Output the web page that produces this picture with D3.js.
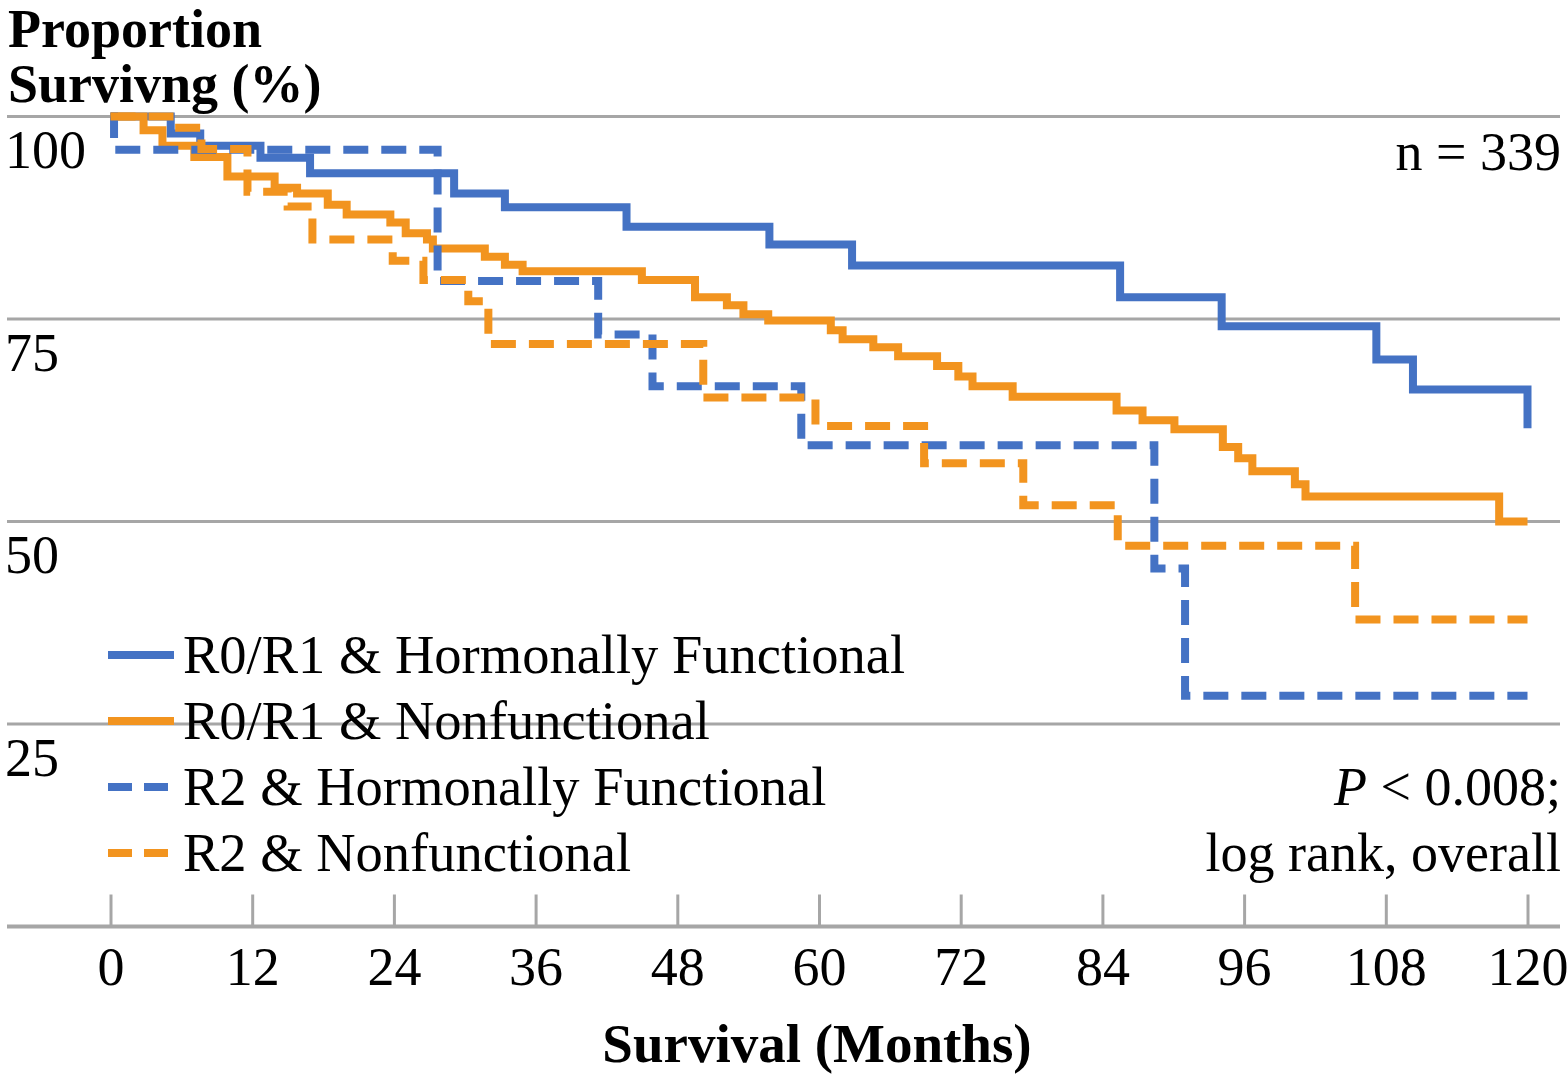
<!DOCTYPE html>
<html><head><meta charset="utf-8">
<script src="https://cdn.jsdelivr.net/npm/d3@7/dist/d3.min.js"></script>
<style>
body{margin:0;background:#fff}
svg{display:block}
text{font-family:"Liberation Serif","Times New Roman",serif;fill:#000}
</style>
</head><body>
<svg id="chart" width="1568" height="1077"></svg>
<script>
// ---- data ----
const xTickValues = [0,12,24,36,48,60,72,84,96,108,120];
const yTickValues = [25,50,75,100];
const seriesNames = ["R0/R1 & Hormonally Functional","R0/R1 & Nonfunctional","R2 & Hormonally Functional","R2 & Nonfunctional"];

const r01FuncMonths = [0,5.1,7.6,12.7,16.9,29.1,33.4,43.7,55.8,62.8,85.5,94.1,107.2,110.3,120];
const r01FuncSurv   = [100,97.9,96.4,94.9,93.0,90.5,88.8,86.4,84.2,81.6,77.7,74.1,70.0,66.3,61.5];

const r01NonMonths = [0,2.8,4.4,7.1,9.9,13.9,15.8,18.4,20.0,23.7,25.0,26.8,27.3,31.7,33.4,34.9,45.0,49.5,52.2,53.6,55.7,61.0,62.0,64.6,66.7,70.0,71.8,73.0,76.4,85.2,87.4,90.1,94.2,95.5,96.7,100.3,101.2,117.6,120];
const r01NonSurv   = [100,98.3,96.4,95.0,92.6,91.2,90.5,89.1,87.9,86.9,85.6,84.8,83.7,82.7,81.7,80.9,79.8,77.7,76.7,75.6,74.8,73.6,72.5,71.5,70.4,69.2,67.9,66.7,65.4,63.7,62.5,61.4,59.2,57.8,56.2,54.6,53.1,50.0,50.0];

const r2FuncMonths = [0,0.3,27.7,41.3,45.9,58.5,88.4,91.0,120];
const r2FuncSurv   = [100,95.9,79.7,73.1,66.7,59.4,44.2,28.5,28.5];

const r2NonMonths = [0,5.0,7.7,11.6,15.0,17.1,23.9,26.5,30.3,32.0,50.2,59.7,68.9,77.3,85.3,105.4,120];
const r2NonSurv   = [100,98.6,96.0,90.7,88.9,84.8,82.2,79.8,77.2,71.9,65.3,61.8,57.2,52.0,47.0,37.9,37.9];

// ---- setup ----
const BLUE = "#4472C4", ORANGE = "#F2941F", GRID = "#A6A6A6";
const svg = d3.select("#chart");
const x = d3.scaleLinear().domain([0,120]).range([110.5,1527.5]);
const y = d3.scaleLinear().domain([0,100]).range([926.5,116.5]);
const fullLeft = 7, fullRight = 1560;
const FS = "54px";

const series = [
  {name:seriesNames[0], t:r01FuncMonths, v:r01FuncSurv, color:BLUE, dash:null},
  {name:seriesNames[1], t:r01NonMonths, v:r01NonSurv, color:ORANGE, dash:null},
  {name:seriesNames[2], t:r2FuncMonths, v:r2FuncSurv, color:BLUE, dash:"25,13"},
  {name:seriesNames[3], t:r2NonMonths, v:r2NonSurv, color:ORANGE, dash:"25,13"}
];

// gridlines
svg.append("g").selectAll("line").data(yTickValues).join("line")
  .attr("x1",fullLeft).attr("x2",fullRight)
  .attr("y1",d=>y(d)).attr("y2",d=>y(d))
  .attr("stroke",GRID).attr("stroke-width",3);

// y labels
const yAxis = svg.append("g").attr("transform",`translate(${fullLeft-2},0)`)
  .call(d3.axisLeft(y).tickValues(yTickValues).tickSize(0));
yAxis.select(".domain").remove();
yAxis.selectAll("text").attr("text-anchor","start").attr("x",0).attr("dy",null)
  .attr("transform","translate(0,51)")
  .style("font-family","'Liberation Serif',serif").style("font-size",FS).attr("fill","#000");

// x axis
const xAxis = svg.append("g").attr("transform",`translate(0,${y(0)})`)
  .call(d3.axisBottom(x).tickValues(xTickValues).tickSize(-32).tickFormat(d3.format("d")));
xAxis.select(".domain").remove();
xAxis.selectAll(".tick line").attr("stroke",GRID).attr("stroke-width",3);
xAxis.selectAll("text").attr("y",58).attr("dy",null)
  .style("font-family","'Liberation Serif',serif").style("font-size",FS).attr("fill","#000");
svg.append("line").attr("x1",fullLeft).attr("x2",fullRight).attr("y1",y(0)).attr("y2",y(0))
  .attr("stroke",GRID).attr("stroke-width",4);

// curves
const line = d3.line().curve(d3.curveStepAfter).x(d=>x(d[0])).y(d=>y(d[1]));
svg.append("g").selectAll("path").data(series).join("path")
  .attr("d",s=>line(s.t.map((t,i)=>[t,s.v[i]])))
  .attr("fill","none").attr("stroke",s=>s.color).attr("stroke-width",8)
  .attr("stroke-dasharray",s=>s.dash).attr("stroke-linejoin","miter").attr("stroke-linecap","butt");

// legend
const lg = svg.append("g");
const rowY = [655,721,787,853];
series.forEach((s,i)=>{
  lg.append("line").attr("x1",108).attr("x2",174).attr("y1",rowY[i]).attr("y2",rowY[i])
    .attr("stroke",s.color).attr("stroke-width",8).attr("stroke-dasharray",s.dash ? "24,12" : null);
  lg.append("text").attr("x",183).attr("y",rowY[i]+18).style("font-size","54.5px").text(s.name);
});

// titles
const yt = svg.append("text").attr("x",8).attr("y",47).style("font-size",FS).style("font-weight","bold");
yt.append("tspan").attr("x",8).attr("y",47).text("Proportion");
yt.append("tspan").attr("x",8).attr("y",102).text("Survivng (%)");
svg.append("text").attr("x",817).attr("y",1062).attr("text-anchor","middle").style("font-size","55px").style("font-weight","bold").text("Survival (Months)");
svg.append("text").attr("x",1561).attr("y",170).attr("text-anchor","end").style("font-size",FS).text("n = 339");
const pt = svg.append("text").attr("x",1561).attr("y",805).attr("text-anchor","end").style("font-size",FS);
pt.append("tspan").style("font-style","italic").text("P");
pt.append("tspan").text(" < 0.008;");
svg.append("text").attr("x",1561).attr("y",871).attr("text-anchor","end").style("font-size",FS).text("log rank, overall");
</script>
</body></html>
